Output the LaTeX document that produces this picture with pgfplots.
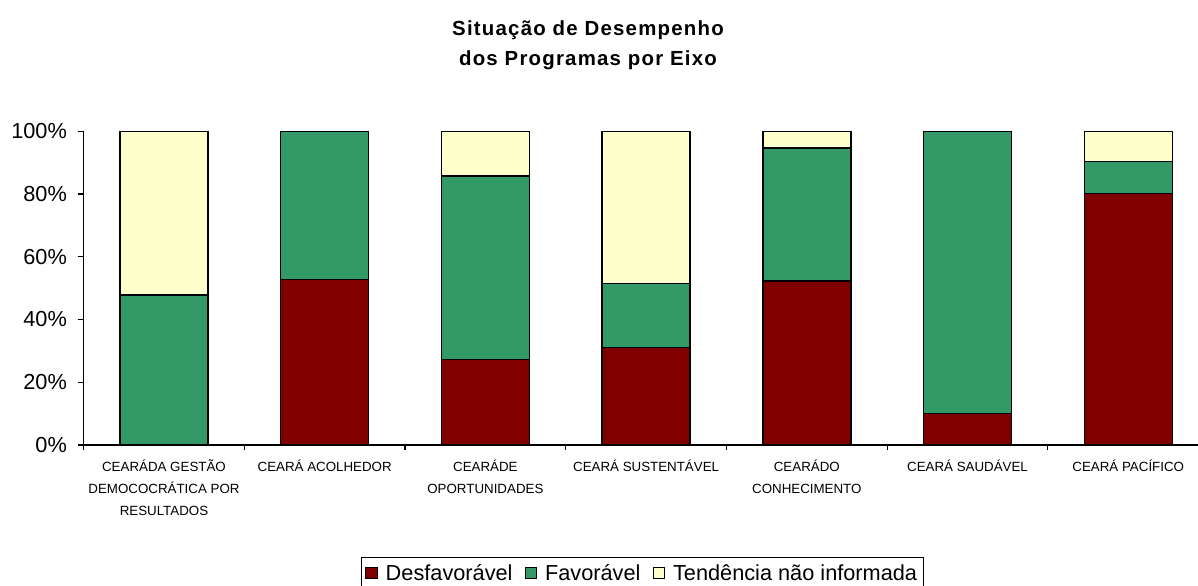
\documentclass[border=0pt]{standalone}
\usepackage{fontspec}
\setmainfont{Liberation Sans}
\newfontfamily\titlefont[LetterSpace=6]{Liberation Sans}
\usepackage{pgfplots}
\pgfplotsset{compat=1.18}
\definecolor{cRed}{HTML}{800000}
\definecolor{cGreen}{HTML}{339966}
\definecolor{cYellow}{HTML}{FFFFCC}
\begin{document}
\begin{tikzpicture}
\useasboundingbox (0,0) rectangle (898.5pt,438.75pt);
\node[font=\titlefont\fontsize{15.3}{22.5}\selectfont\bfseries, align=center] at (441pt,405pt) {Situação de Desempenho\\dos Programas por Eixo};
\begin{axis}[
  at={(62.7pt,105pt)}, anchor=south west,
  scale only axis, width=843.75pt, height=235.3pt,
  ybar stacked, bar width=66pt,
  xmin=-0.5, xmax=6.5, ymin=0, ymax=100,
  axis x line=bottom, axis y line=left,
  axis line style={-, line width=0.8pt, black},
  xtick={0,...,6},
  xticklabels={{CEARÁDA GESTÃO\\DEMOCOCRÁTICA POR\\RESULTADOS},{CEARÁ ACOLHEDOR},{CEARÁDE\\OPORTUNIDADES},{CEARÁ SUSTENTÁVEL},{CEARÁDO\\CONHECIMENTO},{CEARÁ SAUDÁVEL},{CEARÁ PACÍFICO}},
  minor xtick={-0.5,0.5,...,6.5},
  major x tick style={draw=none},
  tick align=outside,
  major tick length=4.5pt, minor tick length=3.75pt,
  tick style={line width=0.8pt, black},
  ytick={0,20,...,100},
  yticklabel={\pgfmathprintnumber{\tick}\%},
  /pgf/number format/assume math mode=true,
  yticklabel style={font=\fontsize{16.3}{18}\selectfont, xshift=-4.5pt},
  xticklabel style={font=\fontsize{10}{16.5}\selectfont, align=center, yshift=-3pt},
  legend columns=-1,
  legend style={at={(0.4968,-0.357)}, anchor=north, draw=black, line width=0.8pt,
    font=\fontsize{16.3}{18}\selectfont, inner sep=3pt,
    /tikz/every even column/.append style={column sep=7pt},
    /tikz/every odd column/.append style={column sep=4pt}},
  legend image code/.code={\draw[#1, line width=0.8pt] (0pt,-4.3pt) rectangle (8.6pt,4.3pt);},
  every axis plot/.append style={draw=black, line width=1.1pt},
]
\addplot[fill=cRed] coordinates {(0,0) (1,52.8) (2,27.3) (3,31.0) (4,52.3) (5,10.1) (6,80.2)};
\addplot[fill=cGreen] coordinates {(0,47.8) (1,47.2) (2,58.5) (3,20.5) (4,42.4) (5,89.9) (6,10.1)};
\addplot[fill=cYellow] coordinates {(0,52.2) (1,0) (2,14.2) (3,48.5) (4,5.3) (5,0) (6,9.7)};
\legend{Desfavorável, Favorável, Tendência não informada}
\end{axis}
\end{tikzpicture}
\end{document}
